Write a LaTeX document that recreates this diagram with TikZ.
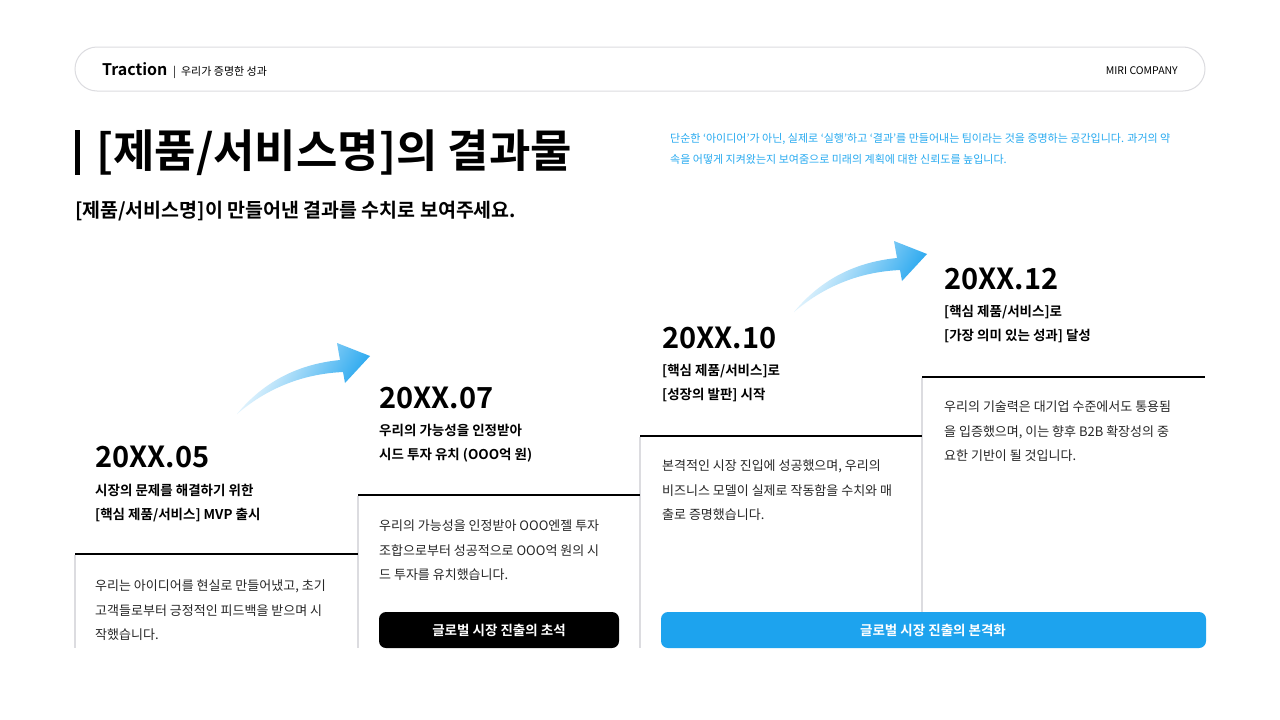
\documentclass[tikz,border=0pt]{standalone}
\usepackage{fontspec}
\setmainfont{Noto Sans CJK KR}
\newfontfamily\bfk{Noto Sans CJK KR Bold}
\usetikzlibrary{shadings}
\definecolor{mblue}{RGB}{29,163,238}
\definecolor{dblue}{RGB}{40,170,240}
\definecolor{lgrey}{RGB}{220,220,224}
\tikzset{
 datet/.style={anchor=north west,inner sep=0pt,font=\bfk\fontsize{29}{32}\selectfont},
 subt/.style={anchor=north west,inner sep=0pt,align=left,font=\bfk\fontsize{13.5}{24}\selectfont},
 bodyt/.style={anchor=north west,inner sep=0pt,align=left,font=\fontsize{13}{24.5}\selectfont,text=black!85},
 topline/.style={line width=2.6pt,black},
 sideline/.style={line width=2pt,lgrey},
 btn/.style={rounded corners=7pt},
 arr/.style={left color=white,right color=mblue,shading angle=60}
}
\begin{document}
\begin{tikzpicture}[x=1pt,y=-1pt]
\useasboundingbox (0,0) rectangle (1280,720);
\fill[white] (0,0) rectangle (1280,720);
% header
\draw[lgrey,line width=1pt,rounded corners=22pt] (75,47) rectangle (1205,91);
\node[anchor=base west,inner sep=0pt,font=\bfk\fontsize{16}{18}\selectfont] (tr) at (102,75) {Traction};
\node[anchor=base west,inner sep=0pt,font=\fontsize{11}{13}\selectfont] (trs) at (173,75) {|\ \ 우리가 증명한 성과};
\node[anchor=base east,inner sep=0pt,font=\fontsize{10.5}{13}\selectfont] (mc) at (1178,74) {MIRI COMPANY};
% title
\fill[black] (75,130) rectangle (80,175);
\node[anchor=west,inner sep=0pt,font=\bfk\fontsize{45}{50}\selectfont] (title) at (96,153) {[제품/서비스명]의 결과물};
\node[anchor=west,inner sep=0pt,font=\bfk\fontsize{19.5}{22}\selectfont] (sub) at (75,211) {[제품/서비스명]이 만들어낸 결과를 수치로 보여주세요.};
\node[anchor=north west,inner sep=0pt,align=left,text=dblue,font=\fontsize{11}{21}\selectfont] (desc) at (670,133) {단순한 ‘아이디어’가 아닌, 실제로 ‘실행’하고 ‘결과’를 만들어내는 팀이라는 것을 증명하는 공간입니다. 과거의 약\\속을 어떻게 지켜왔는지 보여줌으로 미래의 계획에 대한 신뢰도를 높입니다.};
% columns
\draw[sideline] (75,555) -- (75,648);
\draw[sideline] (358,496) -- (358,648);
\draw[sideline] (640,437) -- (640,648);
\draw[sideline] (922,378) -- (922,612);
\draw[topline] (75,554) -- (358,554);
\draw[topline] (358,495) -- (640,495);
\draw[topline] (640,436) -- (922,436);
\draw[topline] (922,377) -- (1205,377);
% col1
\node[datet] (d1) at (95,446) {20XX.05};
\node[subt] (s1) at (95,484) {시장의 문제를 해결하기 위한\\{}[핵심 제품/서비스] MVP 출시};
\node[bodyt] (b1) at (95,580) {우리는 아이디어를 현실로 만들어냈고, 초기\\고객들로부터 긍정적인 피드백을 받으며 시\\작했습니다.};
% col2
\node[datet] (d2) at (379,387) {20XX.07};
\node[subt] (s2) at (379,424) {우리의 가능성을 인정받아\\시드 투자 유치 (OOO억 원)};
\node[bodyt] (b2) at (379,520) {우리의 가능성을 인정받아 OOO엔젤 투자\\조합으로부터 성공적으로 OOO억 원의 시\\드 투자를 유치했습니다.};
% col3
\node[datet] (d3) at (662,327) {20XX.10};
\node[subt] (s3) at (662,364) {[핵심 제품/서비스]로\\{}[성장의 발판] 시작};
\node[bodyt] (b3) at (662,460) {본격적인 시장 진입에 성공했으며, 우리의\\비즈니스 모델이 실제로 작동함을 수치와 매\\출로 증명했습니다.};
% col4
\node[datet] (d4) at (944,268) {20XX.12};
\node[subt] (s4) at (944,305) {[핵심 제품/서비스]로\\{}[가장 의미 있는 성과] 달성};
\node[bodyt] (b4) at (944,401) {우리의 기술력은 대기업 수준에서도 통용됨\\을 입증했으며, 이는 향후 B2B 확장성의 중\\요한 기반이 될 것입니다.};
% buttons
\fill[black,btn] (379,612) rectangle (619,648);
\node[text=white,font=\bfk\fontsize{13.5}{16}\selectfont] (bt1) at (499,630) {글로벌 시장 진출의 초석};
\fill[mblue,btn] (661,612) rectangle (1206,648);
\node[text=white,font=\bfk\fontsize{13.5}{16}\selectfont] (bt2) at (933,630) {글로벌 시장 진출의 본격화};
% arrows
\shade[arr] (237,414) .. controls (265,380) and (300,364) .. (340,360)
  -- (337,343) -- (370,356) -- (345,383) -- (343,372)
  .. controls (300,374) and (265,390) .. cycle;
\begin{scope}[shift={(557,-102)}]
\shade[arr] (237,414) .. controls (265,380) and (300,364) .. (340,360)
  -- (337,343) -- (370,356) -- (345,383) -- (343,372)
  .. controls (300,374) and (265,390) .. cycle;
\end{scope}
\end{tikzpicture}
\end{document}
